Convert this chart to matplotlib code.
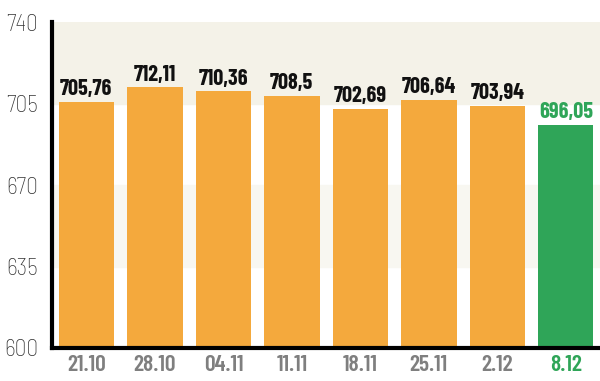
import matplotlib
matplotlib.use("Agg")
import matplotlib.pyplot as plt

dates = ["21.10", "28.10", "04.11", "11.11", "18.11", "25.11", "2.12", "8.12"]
values = [705.76, 712.11, 710.36, 708.5, 702.69, 706.64, 703.94, 696.05]
labels = ["705,76", "712,11", "710,36", "708,5", "702,69", "706,64", "703,94", "696,05"]
yticks = [600, 635, 670, 705, 740]

ORANGE = "#f4a93d"
GREEN = "#2fa558"
GREY = "#7f7f7f"
FONT = ["Barlow Condensed", "DejaVu Sans"]
FONT_Y = ["Barlow Semi Condensed", "Barlow Condensed", "DejaVu Sans"]

fig = plt.figure(figsize=(6, 3.81), dpi=100)
ax = fig.add_axes([0.087, 0.087, 0.913, 0.854])

ax.axhspan(705, 740, color="#f4f2e8", zorder=0)
ax.axhspan(635, 670, color="#f8f7f1", zorder=0)

colors = [ORANGE] * (len(values) - 1) + [GREEN]
x = range(len(values))
ax.bar(x, [v - 600 for v in values], bottom=600, width=0.81, color=colors, zorder=2)

for i, (v, lab) in enumerate(zip(values, labels)):
    ax.text(i, v + 1.2, lab, ha="center", va="bottom", fontsize=16, fontweight="bold",
            family=FONT, color=GREEN if i == len(values) - 1 else "#111111", zorder=3)

ax.set_xlim(-0.5, 7.5)
ax.set_ylim(600, 740)
ax.set_yticks(yticks)
ax.set_yticklabels([str(t) for t in yticks], fontsize=17, fontweight="light", family=FONT_Y, color="#333333")
ax.set_xticks(list(x))
ax.set_xticklabels(dates, fontsize=17, fontweight="semibold", family=FONT, color=GREY)
ax.get_xticklabels()[-1].set_color(GREEN)
ax.tick_params(axis="x", length=0, pad=5)
ax.tick_params(axis="y", length=0, pad=10)

for s in ["top", "right"]:
    ax.spines[s].set_visible(False)
ax.spines["left"].set_linewidth(3)
ax.spines["bottom"].set_linewidth(3)

fig.savefig("out.png", dpi=100)
